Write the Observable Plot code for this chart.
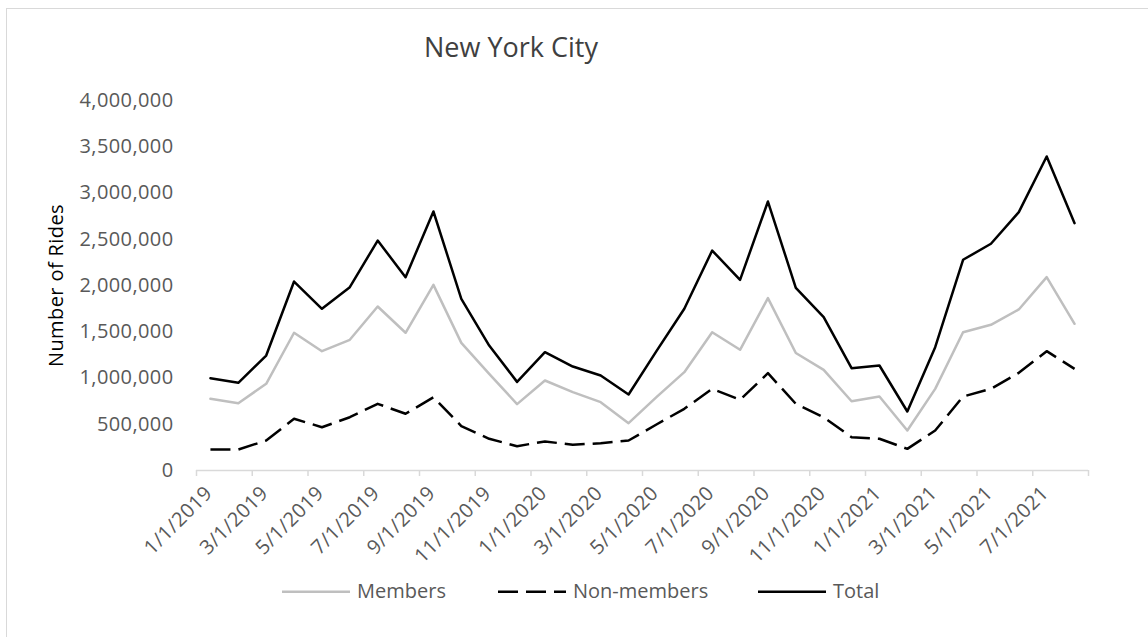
<!DOCTYPE html>
<html><head><meta charset="utf-8">
<script src="https://cdn.jsdelivr.net/npm/d3@7"></script>
<script src="https://cdn.jsdelivr.net/npm/@observablehq/plot@0.6"></script>
<style>
html,body{margin:0;padding:0;overflow:hidden;background:#fff;}
#wrap{position:relative;width:1148px;height:637px;overflow:hidden;font-family:"Open Sans",sans-serif;}
#frame{position:absolute;left:6px;top:8px;width:1170px;height:660px;border:1.5px solid #d9d9d9;box-sizing:border-box;}
#title{position:absolute;top:33px;left:0;width:1022px;text-align:center;font-size:27px;line-height:1;color:#404040;}
#chart{position:absolute;left:0;top:0;}
#legend{position:absolute;left:0;top:572px;}
</style>
</head><body>
<div id="wrap">
  <div id="frame"></div>
  <div id="chart"></div>
  <div id="title">New York City</div>
  <svg id="legend" width="1148" height="40"></svg>
</div>
<script>
const months = ["1/1/2019","2/1/2019","3/1/2019","4/1/2019","5/1/2019","6/1/2019","7/1/2019","8/1/2019","9/1/2019","10/1/2019","11/1/2019","12/1/2019",
  "1/1/2020","2/1/2020","3/1/2020","4/1/2020","5/1/2020","6/1/2020","7/1/2020","8/1/2020","9/1/2020","10/1/2020","11/1/2020","12/1/2020",
  "1/1/2021","2/1/2021","3/1/2021","4/1/2021","5/1/2021","6/1/2021","7/1/2021","8/1/2021"];
const members = [775000,728000,937000,1489000,1290000,1413000,1773000,1489000,2007000,1380000,1045000,718000,
  973000,847000,739000,512000,793000,1063000,1495000,1305000,1863000,1270000,1088000,749000,
  800000,432000,883000,1495000,1575000,1741000,2090000,1586000];
const nonMembers = [227000,227000,324000,559000,468000,576000,721000,613000,792000,480000,343000,263000,
  314000,278000,295000,324000,497000,667000,883000,764000,1052000,721000,576000,360000,
  343000,234000,432000,800000,883000,1056000,1290000,1099000];
const total = [998000,948000,1243000,2043000,1748000,1982000,2486000,2090000,2800000,1856000,1351000,958000,
  1279000,1124000,1027000,822000,1290000,1748000,2378000,2061000,2908000,1975000,1658000,1106000,
  1135000,638000,1333000,2278000,2451000,2793000,3395000,2674000];
const yTicks = [0,500000,1000000,1500000,2000000,2500000,3000000,3500000,4000000];
const seriesNames = ["Members","Non-members","Total"];

const toRows = (vals) => vals.map((v, i) => ({i, v}));
const labelIdx = months.map((_, i) => i).filter(i => i % 2 === 0);
const boundaries = [...labelIdx.map(i => i - 0.5), months.length - 0.5];

const plot = Plot.plot({
  width: 1148, height: 637,
  marginLeft: 196, marginRight: 60, marginTop: 100, marginBottom: 167,
  style: {fontFamily: "Open Sans", fontSize: "20px", color: "#595959", background: "transparent", overflow: "visible", letterSpacing: "0.4px"},
  x: {domain: [-0.5, months.length - 0.5]},
  y: {domain: [0, 4000000]},
  marks: [
    Plot.axisY({ticks: yTicks, tickSize: 0, tickPadding: 23, tickFormat: d3.format(","), label: null, fill: "#595959", fontSize: 20}),
    Plot.ruleY([0], {stroke: "#d9d9d9", strokeWidth: 1.5}),
    Plot.axisX({ticks: boundaries, tickSize: 6, tickFormat: () => "", stroke: "#d9d9d9", strokeWidth: 1.5, label: null}),
    Plot.text(labelIdx, {x: d => d, text: d => months[d], frameAnchor: "bottom", rotate: -45, textAnchor: "end", dx: 3, dy: 24, fill: "#595959", fontSize: 20}),
    Plot.text(["Number of Rides"], {frameAnchor: "left", textAnchor: "middle", dx: -140, rotate: -90, fill: "#000", fontSize: 20}),
    Plot.line(toRows(members), {x: "i", y: "v", stroke: "#bfbfbf", strokeWidth: 2.5}),
    Plot.line(toRows(nonMembers), {x: "i", y: "v", stroke: "#000", strokeWidth: 2.5, strokeDasharray: "20,8", strokeLinecap: "butt"}),
    Plot.line(toRows(total), {x: "i", y: "v", stroke: "#000", strokeWidth: 2.5})
  ]
});
document.getElementById("chart").appendChild(plot);

// legend
const lg = d3.select("#legend");
const items = [
  {name: seriesNames[0], x0: 282, stroke: "#bfbfbf", dash: null},
  {name: seriesNames[1], x0: 498, stroke: "#000", dash: "20,8"},
  {name: seriesNames[2], x0: 758, stroke: "#000", dash: null}
];
items.forEach(it => {
  lg.append("line").attr("x1", it.x0).attr("x2", it.x0 + 68).attr("y1", 19.7).attr("y2", 19.7)
    .attr("stroke", it.stroke).attr("stroke-width", 2.5).attr("stroke-dasharray", it.dash);
  lg.append("text").attr("x", it.x0 + 75).attr("y", 25.7).attr("fill", "#595959")
    .attr("font-family", "Open Sans").attr("font-size", 20).text(it.name);
});
</script>
</body></html>
